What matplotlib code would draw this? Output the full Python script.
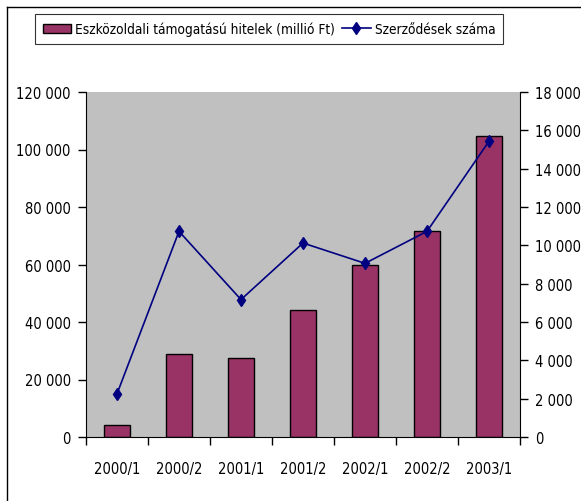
import numpy as np
from matplotlib import pyplot as plt
from matplotlib.lines import Line2D
from matplotlib.ticker import FuncFormatter

periods = ['2000/1', '2000/2', '2001/1', '2001/2', '2002/1', '2002/2', '2003/1']
loans = [4200, 28800, 27400, 44200, 59700, 71700, 104600]
contracts = [2250, 10730, 7170, 10120, 9060, 10730, 15430]

bar_label = 'Eszközoldali támogatású hitelek (millió Ft)'
line_label = 'Szerződések száma'

plt.rcParams['font.family'] = ['DejaVu Sans']
plt.rcParams['font.stretch'] = 'condensed'
plt.rcParams['font.size'] = 10.5

def space_fmt(v, pos):
    return '{:,.0f}'.format(v).replace(',', ' ')

fig = plt.figure(figsize=(5.81, 5.02), dpi=100)
ax1 = fig.add_axes([86/581, 1-438/502, 434/581, 345/502])
ax1.set_facecolor('#C0C0C0')
x = np.arange(len(periods))
ax1.bar(x, loans, width=0.41, color='#993366', edgecolor='black', linewidth=1, zorder=2)
ax1.set_xlim(-0.5, len(periods) - 0.5)
ax1.set_ylim(0, 120000)
ax1.set_yticks(np.arange(0, 120001, 20000))
ax1.yaxis.set_major_formatter(FuncFormatter(space_fmt))
ax1.set_xticks(np.arange(-0.5, len(periods), 1))
ax1.set_xticklabels([])
ax1.set_xticks(x, minor=True)
ax1.set_xticklabels(periods, minor=True)
ax1.tick_params(axis='x', which='minor', length=0, pad=17)
ax1.tick_params(axis='x', which='major', length=6, width=1, color='black')
ax1.tick_params(axis='y', length=6, width=1, pad=5)
for s in ['top', 'right']:
    ax1.spines[s].set_visible(False)

ax2 = ax1.twinx()
ax2.plot(x, contracts, color='#000080', linewidth=1.2, marker='d', markersize=6.5, zorder=3)
ax2.set_ylim(0, 18000)
ax2.set_yticks(np.arange(0, 18001, 2000))
ax2.yaxis.set_major_formatter(FuncFormatter(space_fmt))
ax2.tick_params(axis='y', length=6, width=1, pad=5)
for s in ['top', 'left', 'bottom']:
    ax2.spines[s].set_visible(False)

handles = [plt.Rectangle((0, 0), 1, 1, facecolor='#993366', edgecolor='black', linewidth=1),
           Line2D([0], [0], color='#000080', linewidth=1.2, marker='d', markersize=6.5)]
leg = fig.legend(handles, [bar_label, line_label], loc='center', ncol=2,
                 bbox_to_anchor=(269/581, 1-30/502), frameon=True, fancybox=False,
                 edgecolor='black', borderpad=0.6, handlelength=2.1, handletextpad=0.3,
                 columnspacing=0.5, fontsize=9.8)
leg.get_frame().set_linewidth(0.8)

# outer frame (top and left only)
fig.add_artist(Line2D([7/581, 1], [1-8/502, 1-8/502], color='black', linewidth=1))
fig.add_artist(Line2D([7/581, 7/581], [0, 1-8/502], color='black', linewidth=1))

fig.savefig('out.png', dpi=100)
